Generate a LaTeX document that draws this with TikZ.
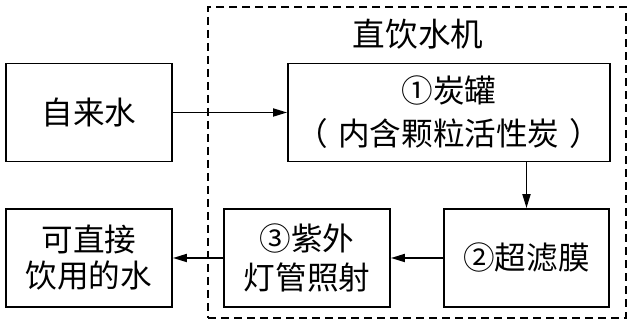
\documentclass[tikz,border=0pt]{standalone}
\usepackage{fontspec}
\setmainfont{Noto Sans CJK SC}
\usetikzlibrary{arrows.meta}

\begin{document}
\begin{tikzpicture}[
        x=0.5pt, y=-0.5pt,
        block/.style={
            rectangle,
            draw,
            line width=0.9pt,
            align=center,
            minimum width=83pt,
            minimum height=49pt,
            font=\fontsize{15.8pt}{20pt}\selectfont,
            inner sep=0pt
        },
        frame/.style={
            rectangle,
            draw,
            line width=0.7pt,
            dash pattern=on 4pt off 2.5pt,
            minimum width=209pt,
            minimum height=155.5pt,
            inner sep=0pt
        },
        arrow/.style={
            -{Triangle[length=7pt,width=4pt]},
            line width=0.9pt
        }
    ]

        \useasboundingbox (0,0) rectangle (633,324);

        \node[frame] (machine) at (417,162.5) {};
        \node[font=\fontsize{16.3pt}{20pt}\selectfont] (title) at (418,34) {直饮水机};

        \node[block] (tap) at (89,112.5) {自来水};
        \node[block, minimum width=161pt, font=\fontsize{15.8pt}{21.5pt}\selectfont] (carbon) at (449,112.5)
            {①炭罐\\（\hspace{5pt}内含颗粒活性炭\hspace{5pt}）};
        \node[block, minimum width=82.5pt] (uf) at (526.5,258) {②超滤膜};
        \node[block, font=\fontsize{15.8pt}{19.5pt}\selectfont] (uv) at (307,258) {③紫外\\灯管照射};
        \node[block, font=\fontsize{15.8pt}{18pt}\selectfont] (drink) at (89,258) {可直接\\饮用的水};

        \draw[arrow] (tap.east) -- (carbon.west);
        \draw[arrow] (carbon.south -| uf.north) -- (uf.north);
        \draw[arrow] (uf.west) -- (uv.east);
        \draw[arrow] (uv.west) -- (drink.east);

    \end{tikzpicture}
\end{document}
